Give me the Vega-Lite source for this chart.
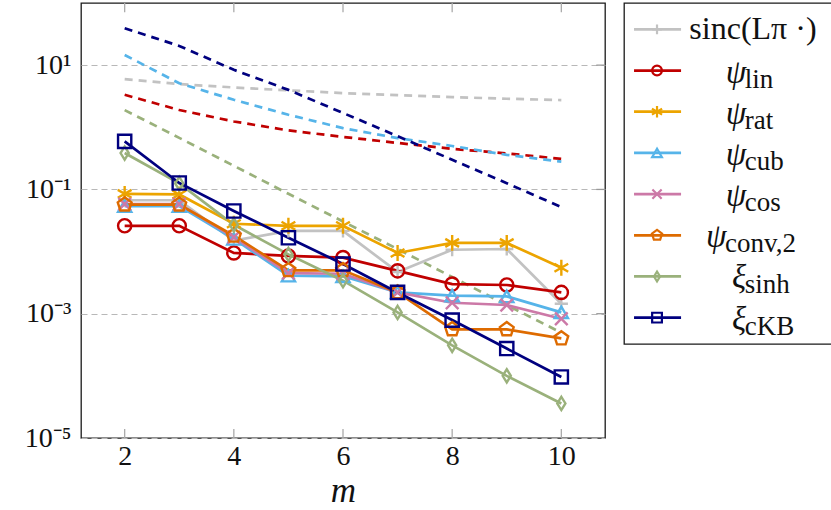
{
  "$schema": "https://vega.github.io/schema/vega-lite/v6.json",
  "padding": {"left": 0, "top": 1, "right": 0, "bottom": 0},
  "autosize": {"type": "pad"},
  "background": "white",
  "config": {
    "font": "Liberation Serif",
    "view": {"stroke": "#1a1a1a", "strokeWidth": 1.3},
    "concat": {"spacing": 16}
  },
  "datasets": {
    "err": [
      {"series": "sinc", "m": 2, "v": 0.067}, {"series": "sinc", "m": 3, "v": 0.067}, {"series": "sinc", "m": 4, "v": 0.015}, {"series": "sinc", "m": 5, "v": 0.0215}, {"series": "sinc", "m": 6, "v": 0.0215}, {"series": "sinc", "m": 7, "v": 0.0047}, {"series": "sinc", "m": 8, "v": 0.0107}, {"series": "sinc", "m": 9, "v": 0.011}, {"series": "sinc", "m": 10, "v": 0.00145},
      {"series": "lin", "m": 2, "v": 0.026}, {"series": "lin", "m": 3, "v": 0.026}, {"series": "lin", "m": 4, "v": 0.0095}, {"series": "lin", "m": 5, "v": 0.0085}, {"series": "lin", "m": 6, "v": 0.008}, {"series": "lin", "m": 7, "v": 0.0049}, {"series": "lin", "m": 8, "v": 0.003}, {"series": "lin", "m": 9, "v": 0.0029}, {"series": "lin", "m": 10, "v": 0.0022},
      {"series": "rat", "m": 2, "v": 0.085}, {"series": "rat", "m": 3, "v": 0.083}, {"series": "rat", "m": 4, "v": 0.028}, {"series": "rat", "m": 5, "v": 0.026}, {"series": "rat", "m": 6, "v": 0.026}, {"series": "rat", "m": 7, "v": 0.0095}, {"series": "rat", "m": 8, "v": 0.0138}, {"series": "rat", "m": 9, "v": 0.0138}, {"series": "rat", "m": 10, "v": 0.0055},
      {"series": "cub", "m": 2, "v": 0.054}, {"series": "cub", "m": 3, "v": 0.054}, {"series": "cub", "m": 4, "v": 0.016}, {"series": "cub", "m": 5, "v": 0.0041}, {"series": "cub", "m": 6, "v": 0.004}, {"series": "cub", "m": 7, "v": 0.0022}, {"series": "cub", "m": 8, "v": 0.00196}, {"series": "cub", "m": 9, "v": 0.0019}, {"series": "cub", "m": 10, "v": 0.00105},
      {"series": "cos", "m": 2, "v": 0.058}, {"series": "cos", "m": 3, "v": 0.058}, {"series": "cos", "m": 4, "v": 0.017}, {"series": "cos", "m": 5, "v": 0.0045}, {"series": "cos", "m": 6, "v": 0.0044}, {"series": "cos", "m": 7, "v": 0.0022}, {"series": "cos", "m": 8, "v": 0.0015}, {"series": "cos", "m": 9, "v": 0.00138}, {"series": "cos", "m": 10, "v": 0.00083},
      {"series": "conv", "m": 2, "v": 0.057}, {"series": "conv", "m": 3, "v": 0.057}, {"series": "conv", "m": 4, "v": 0.018}, {"series": "conv", "m": 5, "v": 0.005}, {"series": "conv", "m": 6, "v": 0.005}, {"series": "conv", "m": 7, "v": 0.0022}, {"series": "conv", "m": 8, "v": 0.00056}, {"series": "conv", "m": 9, "v": 0.00056}, {"series": "conv", "m": 10, "v": 0.0004},
      {"series": "sinh", "m": 2, "v": 0.385}, {"series": "sinh", "m": 3, "v": 0.125}, {"series": "sinh", "m": 4, "v": 0.027}, {"series": "sinh", "m": 5, "v": 0.009}, {"series": "sinh", "m": 6, "v": 0.0034}, {"series": "sinh", "m": 7, "v": 0.00105}, {"series": "sinh", "m": 8, "v": 0.00031}, {"series": "sinh", "m": 9, "v": 0.0001}, {"series": "sinh", "m": 10, "v": 0.000036},
      {"series": "ckb", "m": 2, "v": 0.594}, {"series": "ckb", "m": 3, "v": 0.127}, {"series": "ckb", "m": 4, "v": 0.045}, {"series": "ckb", "m": 5, "v": 0.0167}, {"series": "ckb", "m": 6, "v": 0.0063}, {"series": "ckb", "m": 7, "v": 0.0022}, {"series": "ckb", "m": 8, "v": 0.00079}, {"series": "ckb", "m": 9, "v": 0.000275}, {"series": "ckb", "m": 10, "v": 0.000096}
    ],
    "bounds": [
      {"series": "sinc", "m": 2, "v": 5.96}, {"series": "sinc", "m": 3, "v": 4.95}, {"series": "sinc", "m": 4, "v": 4.37}, {"series": "sinc", "m": 5, "v": 3.93}, {"series": "sinc", "m": 6, "v": 3.55}, {"series": "sinc", "m": 7, "v": 3.3}, {"series": "sinc", "m": 8, "v": 3.06}, {"series": "sinc", "m": 9, "v": 2.88}, {"series": "sinc", "m": 10, "v": 2.74},
      {"series": "lin", "m": 2, "v": 3.33}, {"series": "lin", "m": 3, "v": 1.9}, {"series": "lin", "m": 4, "v": 1.24}, {"series": "lin", "m": 5, "v": 0.89}, {"series": "lin", "m": 6, "v": 0.7}, {"series": "lin", "m": 7, "v": 0.56}, {"series": "lin", "m": 8, "v": 0.45}, {"series": "lin", "m": 9, "v": 0.38}, {"series": "lin", "m": 10, "v": 0.31},
      {"series": "cub", "m": 2, "v": 14.6}, {"series": "cub", "m": 3, "v": 5.1}, {"series": "cub", "m": 4, "v": 2.77}, {"series": "cub", "m": 5, "v": 1.59}, {"series": "cub", "m": 6, "v": 0.97}, {"series": "cub", "m": 7, "v": 0.67}, {"series": "cub", "m": 8, "v": 0.5}, {"series": "cub", "m": 9, "v": 0.36}, {"series": "cub", "m": 10, "v": 0.28},
      {"series": "sinh", "m": 2, "v": 1.89}, {"series": "sinh", "m": 3, "v": 0.676}, {"series": "sinh", "m": 4, "v": 0.24}, {"series": "sinh", "m": 5, "v": 0.085}, {"series": "sinh", "m": 6, "v": 0.0305}, {"series": "sinh", "m": 7, "v": 0.011}, {"series": "sinh", "m": 8, "v": 0.0039}, {"series": "sinh", "m": 9, "v": 0.00138}, {"series": "sinh", "m": 10, "v": 0.000495},
      {"series": "ckb", "m": 2, "v": 39.3}, {"series": "ckb", "m": 3, "v": 20.4}, {"series": "ckb", "m": 4, "v": 8.4}, {"series": "ckb", "m": 5, "v": 4.0}, {"series": "ckb", "m": 6, "v": 1.7}, {"series": "ckb", "m": 7, "v": 0.72}, {"series": "ckb", "m": 8, "v": 0.3}, {"series": "ckb", "m": 9, "v": 0.126}, {"series": "ckb", "m": 10, "v": 0.052}
    ],
    "xticks": [{"m": 2}, {"m": 4}, {"m": 6}, {"m": 8}, {"m": 10}],
    "yticks": [{"v": 10}, {"v": 0.1}, {"v": 0.001}],
    "legend": [
      {"series": "sinc", "sym": "sinc(Lπ ·)", "sub": ""},
      {"series": "lin", "sym": "ψ", "sub": "lin"},
      {"series": "rat", "sym": "ψ", "sub": "rat"},
      {"series": "cub", "sym": "ψ", "sub": "cub"},
      {"series": "cos", "sym": "ψ", "sub": "cos"},
      {"series": "conv", "sym": "ψ", "sub": "conv,2"},
      {"series": "sinh", "sym": "ξ", "sub": "sinh"},
      {"series": "ckb", "sym": "ξ", "sub": "cKB"}
    ]
  },
  "hconcat": [
    {
      "width": 524,
      "height": 435,
      "layer": [
        {
          "data": {"name": "bounds"},
          "mark": {"type": "line", "strokeDash": [8, 6], "strokeWidth": 2.7},
          "encoding": {
            "x": {"field": "m", "type": "quantitative", "scale": {"domain": [1.2, 10.8], "nice": false, "zero": false},
              "axis": {"orient": "bottom", "values": [2, 4, 6, 8, 10], "format": "d", "grid": false, "domain": false, "ticks": false, "labelFontSize": 28, "labelColor": "#111", "labelPadding": 4, "title": "m", "titleFontSize": 35, "titleFontStyle": "italic", "titleFontWeight": "normal", "titleColor": "#111", "titlePadding": 3}},
            "y": {"field": "v", "type": "quantitative", "scale": {"type": "log", "domain": [0.00001, 100], "nice": false},
              "axis": {"orient": "left", "values": [10, 0.1, 0.001, 0.00001], "grid": true, "gridDash": [6, 4], "gridColor": "#b8b8b8", "gridWidth": 1.1, "ticks": false, "domain": false, "labelFontSize": 28, "labelColor": "#111", "labelPadding": 10, "title": null, "minExtent": 80, "maxExtent": 80,
                "labelExpr": "datum.value >= 1 ? '10¹' : datum.value >= 0.01 ? '10⁻¹' : datum.value >= 0.0001 ? '10⁻³' : '10⁻⁵'"}},
            "color": {"field": "series", "type": "nominal",
              "scale": {"domain": ["sinc", "lin", "rat", "cub", "cos", "conv", "sinh", "ckb"], "range": ["#c2c2c2", "#c00000", "#eca400", "#56b4e9", "#cc79a7", "#de6b00", "#9ab17b", "#00007f"]},
              "legend": null}
          }
        },
        {
          "data": {"name": "xticks"},
          "mark": {"type": "rule", "color": "#ababab", "strokeWidth": 1.3},
          "encoding": {
            "x": {"field": "m", "type": "quantitative"},
            "y": {"datum": 100, "type": "quantitative"},
            "y2": {"datum": 71}
          }
        },
        {
          "data": {"name": "xticks"},
          "mark": {"type": "rule", "color": "#ababab", "strokeWidth": 1.3},
          "encoding": {
            "x": {"field": "m", "type": "quantitative"},
            "y": {"datum": 0.00001, "type": "quantitative"},
            "y2": {"datum": 0.000014}
          }
        },
        {
          "data": {"name": "yticks"},
          "mark": {"type": "rule", "color": "#9a9a9a", "strokeWidth": 1.3},
          "encoding": {
            "y": {"field": "v", "type": "quantitative"},
            "x": {"datum": 10.8, "type": "quantitative"},
            "x2": {"datum": 10.64}
          }
        },
        {
          "data": {"name": "err"},
          "mark": {"type": "line", "strokeWidth": 2.7},
          "encoding": {
            "x": {"field": "m", "type": "quantitative"},
            "y": {"field": "v", "type": "quantitative"},
            "color": {"field": "series", "type": "nominal", "legend": null}
          }
        },
        {
          "data": {"name": "err"},
          "mark": {"type": "point", "filled": false, "strokeWidth": 2.4, "size": 175, "opacity": 1},
          "encoding": {
            "x": {"field": "m", "type": "quantitative"},
            "y": {"field": "v", "type": "quantitative"},
            "color": {"field": "series", "type": "nominal", "legend": null},
            "shape": {"field": "series", "type": "nominal",
              "scale": {"domain": ["sinc", "lin", "rat", "cub", "cos", "conv", "sinh", "ckb"],
                "range": ["M-1,0L1,0M0,-1L0,1", "circle", "M0,-1.2L0,1.2M-1.04,-0.6L1.04,0.6M-1.04,0.6L1.04,-0.6", "triangle-up", "M-0.95,-0.95L0.95,0.95M-0.95,0.95L0.95,-0.95", "M0,-1.1L1.046,-0.34L0.647,0.89L-0.647,0.89L-1.046,-0.34Z", "M0,-1L0.62,0L0,1L-0.62,0Z", "square"]},
              "legend": null}
          }
        }
      ]
    },
    {
      "width": 209,
      "height": 341,
      "view": {"stroke": "#1a1a1a", "strokeWidth": 1.3},
      "data": {"name": "legend"},
      "encoding": {
        "y": {"field": "series", "type": "nominal", "scale": {"type": "point", "domain": ["sinc", "lin", "rat", "cub", "cos", "conv", "sinh", "ckb"], "padding": 0.64}, "axis": null}
      },
      "layer": [
        {
          "mark": {"type": "rule", "strokeWidth": 2.7},
          "encoding": {
            "x": {"datum": 0.048, "type": "quantitative", "scale": {"domain": [0, 1], "nice": false, "zero": false}, "axis": null},
            "x2": {"datum": 0.273},
            "color": {"field": "series", "type": "nominal", "legend": null}
          }
        },
        {
          "mark": {"type": "point", "filled": false, "strokeWidth": 2.2, "size": 95, "opacity": 1},
          "encoding": {
            "x": {"datum": 0.158, "type": "quantitative"},
            "color": {"field": "series", "type": "nominal", "legend": null},
            "shape": {"field": "series", "type": "nominal", "legend": null}
          }
        },
        {
          "transform": [{"filter": "datum.series === 'sinc'"}],
          "mark": {"type": "text", "align": "center", "baseline": "alphabetic", "dy": 10, "fontSize": 32, "color": "#111"},
          "encoding": {"x": {"datum": 0.617, "type": "quantitative"}, "text": {"field": "sym"}}
        },
        {
          "transform": [{"filter": "datum.series !== 'sinc' && datum.series !== 'conv'"}],
          "mark": {"type": "text", "align": "right", "baseline": "alphabetic", "dy": 12, "fontSize": 33, "fontStyle": "italic", "color": "#111"},
          "encoding": {"x": {"datum": 0.585, "type": "quantitative"}, "text": {"field": "sym"}}
        },
        {
          "transform": [{"filter": "datum.series !== 'sinc' && datum.series !== 'conv'"}],
          "mark": {"type": "text", "align": "left", "baseline": "alphabetic", "dy": 17, "fontSize": 27, "color": "#111"},
          "encoding": {"x": {"datum": 0.578, "type": "quantitative"}, "text": {"field": "sub"}}
        },
        {
          "transform": [{"filter": "datum.series === 'conv'"}],
          "mark": {"type": "text", "align": "right", "baseline": "alphabetic", "dy": 12, "fontSize": 33, "fontStyle": "italic", "color": "#111"},
          "encoding": {"x": {"datum": 0.49, "type": "quantitative"}, "text": {"field": "sym"}}
        },
        {
          "transform": [{"filter": "datum.series === 'conv'"}],
          "mark": {"type": "text", "align": "left", "baseline": "alphabetic", "dy": 17, "fontSize": 27, "color": "#111"},
          "encoding": {"x": {"datum": 0.483, "type": "quantitative"}, "text": {"field": "sub"}}
        }
      ]
    }
  ]
}
